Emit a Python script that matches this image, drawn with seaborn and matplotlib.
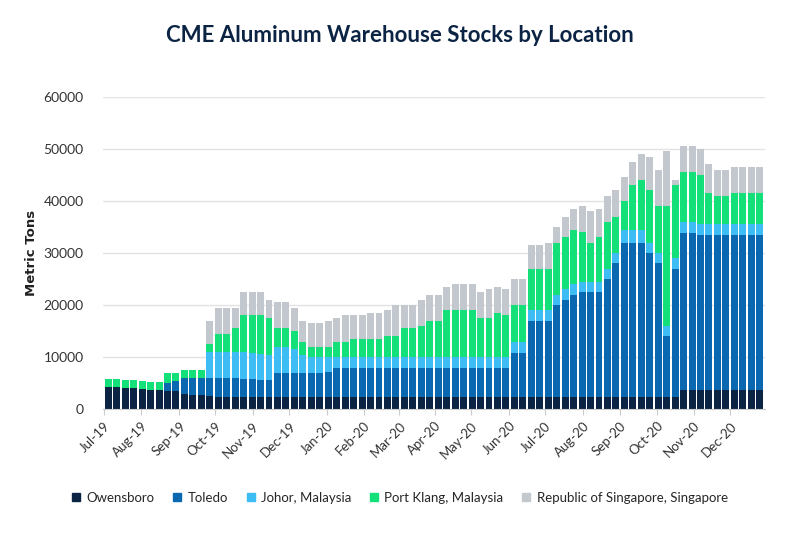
import numpy as np
import pandas as pd
import seaborn as sns
import matplotlib.pyplot as plt
from matplotlib.patches import Patch

# weekly stacked tops (cumulative), Jul-19 .. Dec-20
owensboro = [4200, 4200, 4100, 4000, 3900,
             3700, 3600, 3500, 3500,
             3000, 2800, 2700, 2500] + [2300] * 55 + [3700] * 10
toledo_top = [4200, 4200, 4100, 4000, 3900,
              3700, 3600, 5000, 5500,
              6000, 6000, 6000, 6000,
              6000, 5900, 5900, 5800, 5800,
              5700, 5600, 7000, 7000,
              7000, 7000, 7000, 7000,
              7200, 8000, 8000, 8000, 8000] + [8000] * 17 + [
              10700, 10700, 17000, 17000,
              17000, 20000, 21000, 22000, 22500,
              22500, 22500, 25000, 28000,
              32000, 32000, 32000, 30000,
              28000, 14000, 27000, 33800, 33800] + [33500] * 8
johor_top = [4200, 4200, 4100, 4000, 3900,
             3700, 3600, 5000, 5500,
             6000, 6000, 6000, 11000,
             11000, 11000, 11000, 11000, 10800,
             10600, 10500, 12000, 12000,
             11500, 10500, 10000, 10000] + [10000] * 22 + [
             13000, 13000, 19000, 19000,
             19000, 22000, 23000, 24000, 24500,
             24500, 24500, 27000, 30000,
             34500, 34500, 34500, 32000,
             30000, 16000, 29000, 36000, 36000] + [35500] * 8
klang_top = [5800, 5800, 5700, 5600, 5500,
             5300, 5300, 7000, 7000,
             7500, 7500, 7500, 12500,
             14500, 14500, 15500, 18000, 18000,
             18000, 17500, 15500, 15500,
             15000, 13000, 12000, 12000,
             12000, 13000, 13000, 13500, 13500,
             13500, 13500, 14000, 14000,
             15500, 15500, 16000, 17000,
             17000, 19000, 19000, 19000, 19000,
             17500, 17500, 18500, 18000,
             20000, 20000, 27000, 27000,
             27000, 32000, 33000, 34500, 34000,
             32000, 33000, 36000, 37000,
             40000, 43000, 44000, 42000,
             39000, 39000, 43000, 45500, 45500,
             45000, 41500, 41000, 41000] + [41500] * 4
singapore_top = [5800, 5800, 5700, 5600, 5500,
                 5300, 5300, 7000, 7000,
                 7500, 7500, 7600, 17000,
                 19500, 19500, 19500, 22500, 22500,
                 22500, 21000, 20500, 20500,
                 19500, 17000, 16500, 16500,
                 17000, 17500, 18000, 18000, 18000,
                 18500, 18500, 19000, 20000,
                 20000, 20000, 21000, 22000,
                 22000, 23500, 24000, 24000, 24000,
                 22500, 23000, 23500, 23000,
                 25000, 25000, 31500, 31500,
                 32000, 35000, 37000, 38500, 39000,
                 38000, 38500, 41000, 42000,
                 44500, 47500, 49000, 48500,
                 46000, 49500, 44000, 50500, 50500,
                 50000, 47000, 46000, 46000] + [46500] * 4

months = ["Jul-19", "Aug-19", "Sep-19", "Oct-19", "Nov-19", "Dec-19", "Jan-20", "Feb-20", "Mar-20",
          "Apr-20", "May-20", "Jun-20", "Jul-20", "Aug-20", "Sep-20", "Oct-20", "Nov-20", "Dec-20"]
month_start_week = [0, 4.4, 8.9, 13.1, 17.6, 21.9, 26.3, 30.7, 34.9, 39.1, 43.4, 47.9,
                    52.1, 56.6, 61.0, 65.3, 69.7, 74.0]

layers = [
    ("Republic of Singapore, Singapore", singapore_top, "#c3c7ce"),
    ("Port Klang, Malaysia", klang_top, "#14e07a"),
    ("Johor, Malaysia", johor_top, "#3dbdf3"),
    ("Toledo", toledo_top, "#0a68b0"),
    ("Owensboro", owensboro, "#0c2444"),
]

weeks = np.arange(len(owensboro))
fig = plt.figure(figsize=(8, 5.56), dpi=100)
ax = fig.add_axes([0.129, 0.264, 0.827, 0.562])
sns.set_style("white")
plt.rcParams['font.family'] = ['Lato', 'DejaVu Sans']

for name, vals, col in layers:
    df = pd.DataFrame({"week": weeks, "v": vals})
    sns.barplot(data=df, x="week", y="v", color=col, width=0.82, ax=ax,
                native_scale=True, saturation=1, linewidth=0)

ax.set_ylim(0, 60000)
ax.set_xlim(-0.6, len(weeks) - 0.4)
ax.set_yticks(range(0, 60001, 10000))
ax.set_yticklabels([str(v) for v in range(0, 60001, 10000)], fontsize=10, color="#333333", family="Lato")
ax.yaxis.grid(True, color="#e3e3e3", linewidth=1)
ax.set_axisbelow(True)
ax.set_xticks([m - 0.5 for m in month_start_week])
ax.set_xticklabels(months, rotation=45, ha="right", rotation_mode="anchor", fontsize=9.5, color="#333333", family="Lato")
ax.tick_params(axis="x", length=4, color="#cccccc")
ax.tick_params(axis="y", length=0, pad=14)
for s in ["top", "right", "left"]:
    ax.spines[s].set_visible(False)
ax.spines["bottom"].set_color("#cccccc")
ax.set_xlabel("")
ax.set_ylabel("Metric Tons", fontsize=9.5, fontweight="bold", color="#222222", labelpad=4)

fig.suptitle("CME Aluminum Warehouse Stocks by Location", x=0.5, y=0.955, fontsize=16,
             fontweight="bold", color="#0c2444")

handles = [Patch(color=c, label=n) for n, _, c in layers[::-1]]
fig.legend(handles=handles, loc="center", bbox_to_anchor=(0.5, 0.105), ncol=5, frameon=False,
           fontsize=9.5, handlelength=0.6, handleheight=0.6, handletextpad=0.5, columnspacing=1.4)

fig.savefig("out.png", dpi=100)
